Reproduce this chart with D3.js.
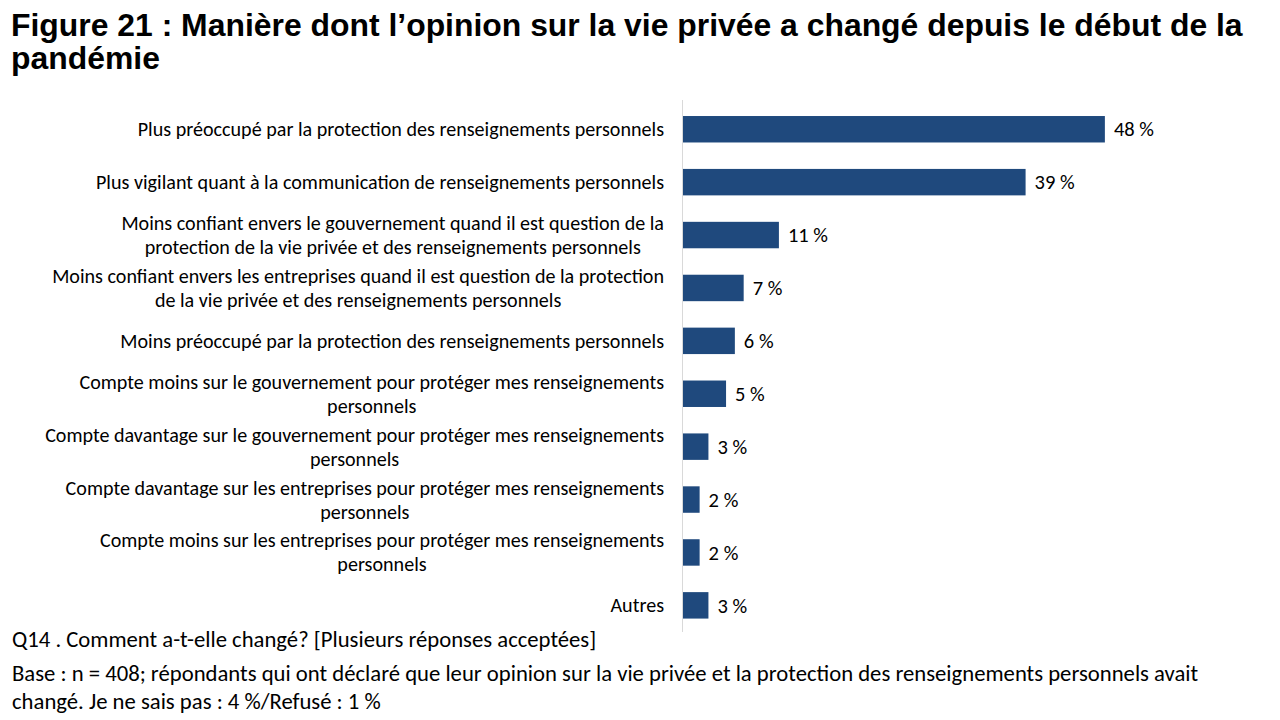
<!DOCTYPE html>
<html><head><meta charset="utf-8">
<script src="https://cdn.jsdelivr.net/npm/d3@7"></script>
<style>
html,body{margin:0;padding:0;background:#fff;}
svg{display:block;}
</style></head>
<body>
<svg id="chart" width="1280" height="720"></svg>
<script>
const titleLines = ["Figure 21 : Manière dont l\u2019opinion sur la vie privée a changé depuis le début de la", "pandémie"];
const categories = [
  ["Plus préoccupé par la protection des renseignements personnels"],
  ["Plus vigilant quant à la communication de renseignements personnels"],
  ["Moins confiant envers le gouvernement quand il est question de la", "protection de la vie privée et des renseignements personnels"],
  ["Moins confiant envers les entreprises quand il est question de la protection", "de la vie privée et des renseignements personnels"],
  ["Moins préoccupé par la protection des renseignements personnels"],
  ["Compte moins sur le gouvernement pour protéger mes renseignements", "personnels"],
  ["Compte davantage sur le gouvernement pour protéger mes renseignements", "personnels"],
  ["Compte davantage sur les entreprises pour protéger mes renseignements", "personnels"],
  ["Compte moins sur les entreprises pour protéger mes renseignements", "personnels"],
  ["Autres"]
];
const values = [48, 39, 11, 7, 6, 5, 3, 2, 2, 3];
const noteLines = [
  "Q14 . Comment a-t-elle changé? [Plusieurs réponses acceptées]",
  "Base : n = 408; répondants qui ont déclaré que leur opinion sur la vie privée et la protection des renseignements personnels avait",
  "changé. Je ne sais pas : 4 %/Refusé : 1 %"
];

const svg = d3.select("#chart");
const labelFont = "Carlito, Lato, 'Open Sans', sans-serif";

// Title (one text block, two lines)
svg.append("text")
  .attr("font-family", "'Liberation Sans', Arial, sans-serif")
  .attr("font-weight", "bold").attr("font-size", 31.9).attr("fill", "#000")
  .selectAll("tspan").data(titleLines).join("tspan")
  .attr("x", 11).attr("y", (d, i) => 36 + i * 32.5)
  .text(d => d);

const idx = d3.range(values.length);
const y = d3.scaleBand().domain(idx).range([102.8, 631.8]).paddingInner(0.5).paddingOuter(0.25);
const x = d3.scaleLinear().domain([0, 50]).range([682, 682 + 50 * 8.81]);

// axis line
svg.append("line").attr("x1", x(0) + 0.5).attr("x2", x(0) + 0.5).attr("y1", 100).attr("y2", 632)
  .attr("stroke", "#d9d9d9").attr("stroke-width", 1);

// bars
svg.append("g").selectAll("rect").data(idx).join("rect")
  .attr("x", x(0) + 1).attr("y", i => y(i)).attr("height", y.bandwidth())
  .attr("width", i => x(values[i]) - x(0) - 1)
  .attr("fill", "#1f497d");

// value labels
svg.append("g").selectAll("text").data(idx).join("text")
  .attr("x", i => x(values[i]) + 9).attr("y", i => y(i) + y.bandwidth() / 2)
  .attr("dy", "0.35em")
  .attr("font-family", labelFont).attr("font-size", 20.5).attr("fill", "#000")
  .text(i => values[i] + " %");

// category labels
const lg = svg.append("g");
idx.forEach(i => {
  const lines = categories[i];
  const g = lg.append("g");
  const t = g.selectAll("text").data(lines).join("text")
    .attr("font-family", labelFont).attr("font-size", 20.1).attr("fill", "#000")
    .attr("text-anchor", "middle")
    .text(d => d);
  let maxW = 0;
  t.each(function () { maxW = Math.max(maxW, this.getComputedTextLength()); });
  const cx = 664 - maxW / 2;
  const cy = y(i) + y.bandwidth() / 2;
  const lh = 24;
  t.attr("x", cx).attr("y", (d, k) => cy + (k - (lines.length - 1) / 2) * lh).attr("dy", "0.35em");
});

// notes
const noteY = [647, 681, 709];
svg.append("g").selectAll("text").data(noteLines).join("text")
  .attr("x", 12).attr("y", (d, i) => noteY[i])
  .attr("font-family", labelFont).attr("font-size", 22.7).attr("fill", "#000")
  .text(d => d);
</script>
</body></html>
